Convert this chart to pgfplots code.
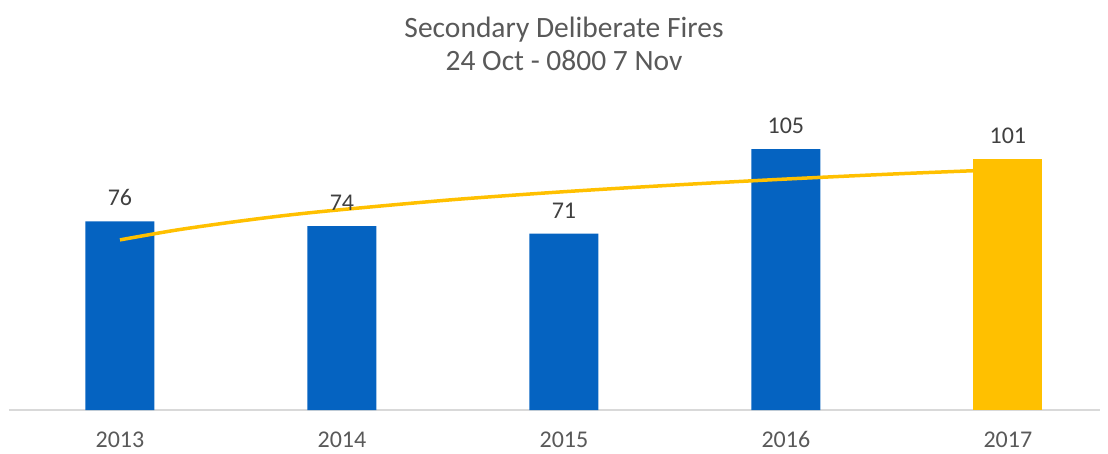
\documentclass[border=0pt]{standalone}
\usepackage{pgfplots}
\pgfplotsset{compat=1.18}
\usepackage{fontspec}
\setmainfont{Carlito}
\definecolor{barblue}{HTML}{0563C1}
\definecolor{gold}{HTML}{FFC000}
\definecolor{txtgray}{HTML}{595959}
\definecolor{lblgray}{HTML}{404040}
\definecolor{axgray}{HTML}{D9D9D9}
\begin{document}
\begin{tikzpicture}[x=1pt,y=1pt]
\useasboundingbox (0,0) rectangle (1108,453);
\node[font=\fontsize{29.5}{34}\selectfont, text=txtgray] at (564,423) {Secondary Deliberate Fires};
\node[font=\fontsize{29.5}{34}\selectfont, text=txtgray] at (564,392) {24 Oct - 0800 7 Nov};
\begin{axis}[
    at={(9pt,43pt)}, anchor=south west,
    scale only axis,
    width=1091pt, height=298pt,
    xmin=-0.5, xmax=4.415,
    ymin=0, ymax=120,
    axis x line*=bottom,
    axis y line=none,
    x axis line style={draw=axgray, line width=1.5pt, -},
    xtick={0,1,2,3,4},
    xticklabels={2013,2014,2015,2016,2017},
    major tick length=0pt,
    xticklabel style={font=\fontsize{24}{28}\selectfont, text=txtgray,
        text height=16pt, text depth=0pt, anchor=north, yshift=-18pt},
    ybar, bar width=69pt,
    nodes near coords,
    nodes near coords style={font=\fontsize{24}{28}\selectfont, text=lblgray, anchor=south, yshift=12pt},
    /pgf/number format/assume math mode=true,
    clip=false,
]
% Blue bars 2013-2016
\addplot[fill=barblue, draw=none, bar shift=0pt] coordinates {
    (0,76) (1,74) (2,71) (3,105)
};
% 2017 in gold
\addplot[fill=gold, draw=none, bar shift=0pt] coordinates {
    (4,101)
};
% Logarithmic trend line
\addplot[sharp plot, color=gold, line width=3.5pt, smooth, nodes near coords={}] coordinates {
    (0,68.5) (0.25,72.4) (0.5,75.6) (0.75,78.4) (1,80.7) (1.5,84.7)
    (2,87.9) (2.5,90.6) (3,93.0) (3.5,95.1) (4,96.9)
};
\end{axis}
\end{tikzpicture}
\end{document}
